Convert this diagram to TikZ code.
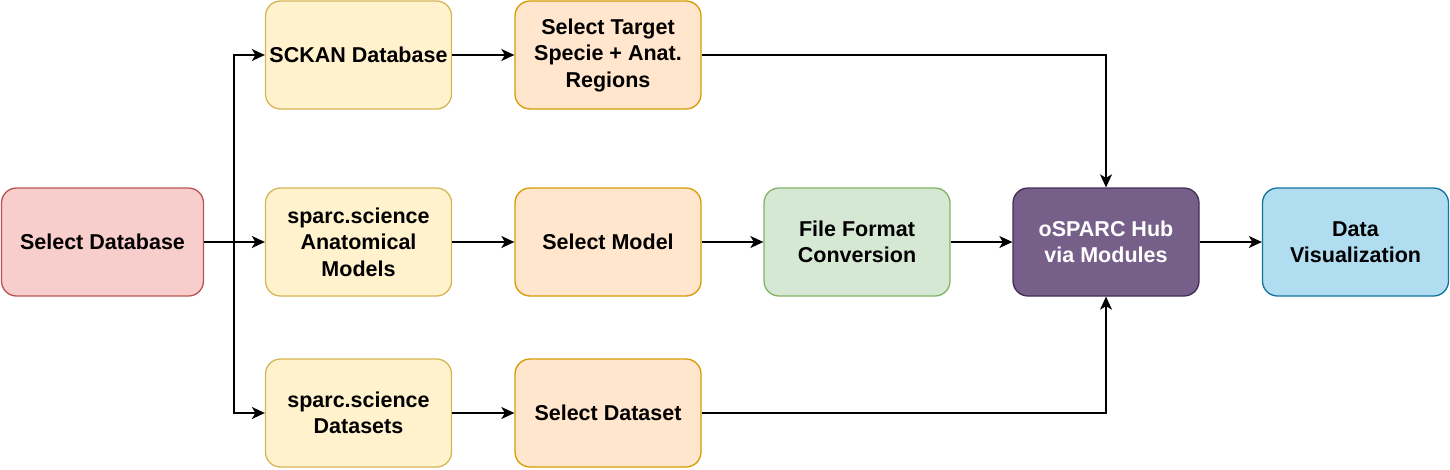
\documentclass[tikz,border=0pt]{standalone}
\usepackage{fontspec}
\setmainfont{Liberation Sans}
\usetikzlibrary{arrows.meta}
\definecolor{redF}{HTML}{F8CECC}\definecolor{redS}{HTML}{B85450}
\definecolor{yelF}{HTML}{FFF2CC}\definecolor{yelS}{HTML}{D6B656}
\definecolor{oraF}{HTML}{FFE6CC}\definecolor{oraS}{HTML}{D79B00}
\definecolor{grnF}{HTML}{D5E8D4}\definecolor{grnS}{HTML}{82B366}
\definecolor{purF}{HTML}{76608A}\definecolor{purS}{HTML}{432D57}
\definecolor{bluF}{HTML}{B1DDF0}\definecolor{bluS}{HTML}{10739E}
\begin{document}
\begin{tikzpicture}[x=1pt,y=-1pt,
  box/.style={draw, line width=1.3pt, rounded corners=15pt, minimum width=186pt, minimum height=108pt,
    inner sep=0pt, align=center, font=\fontsize{21.5}{26.5}\selectfont\bfseries},
  redbox/.style={box, fill=redF, draw=redS},
  yelbox/.style={box, fill=yelF, draw=yelS},
  orabox/.style={box, fill=oraF, draw=oraS},
  grnbox/.style={box, fill=grnF, draw=grnS},
  purbox/.style={box, fill=purF, draw=purS, text=white},
  blubox/.style={box, fill=bluF, draw=bluS},
  arr/.style={draw, line width=1.5pt, -{Stealth[length=13pt,width=12pt,inset=3.5pt]}}]
\useasboundingbox (0,0) rectangle (1450,469);
\node[redbox, minimum width=202pt] (db) at (102.5,242) {Select Database};
\node[yelbox] (sckan) at (358.5,55) {SCKAN Database};
\node[orabox] (target) at (608,55) {Select Target\\Specie + Anat.\\Regions};
\node[yelbox] (anat) at (358.5,242) {sparc.science\\Anatomical\\Models};
\node[orabox] (model) at (608,242) {Select Model};
\node[grnbox] (ffc) at (857,242) {File Format\\Conversion};
\node[purbox] (osparc) at (1106,242) {oSPARC Hub\\via Modules};
\node[blubox] (viz) at (1355.5,242) {Data\\Visualization};
\node[yelbox] (datasets) at (358.5,413) {sparc.science\\Datasets};
\node[orabox] (dataset) at (608,413) {Select Dataset};
\coordinate (br) at (234,242);
\draw[arr] (db.east) -- (anat.west);
\draw[arr] (br) |- (sckan.west);
\draw[arr] (br) |- (datasets.west);
\draw[arr] (sckan.east) -- (target.west);
\draw[arr] (anat.east) -- (model.west);
\draw[arr] (datasets.east) -- (dataset.west);
\draw[arr] (model.east) -- (ffc.west);
\draw[arr] (ffc.east) -- (osparc.west);
\draw[arr] (osparc.east) -- (viz.west);
\draw[arr] (target.east) -| (osparc.north);
\draw[arr] (dataset.east) -| (osparc.south);
\end{tikzpicture}
\end{document}
